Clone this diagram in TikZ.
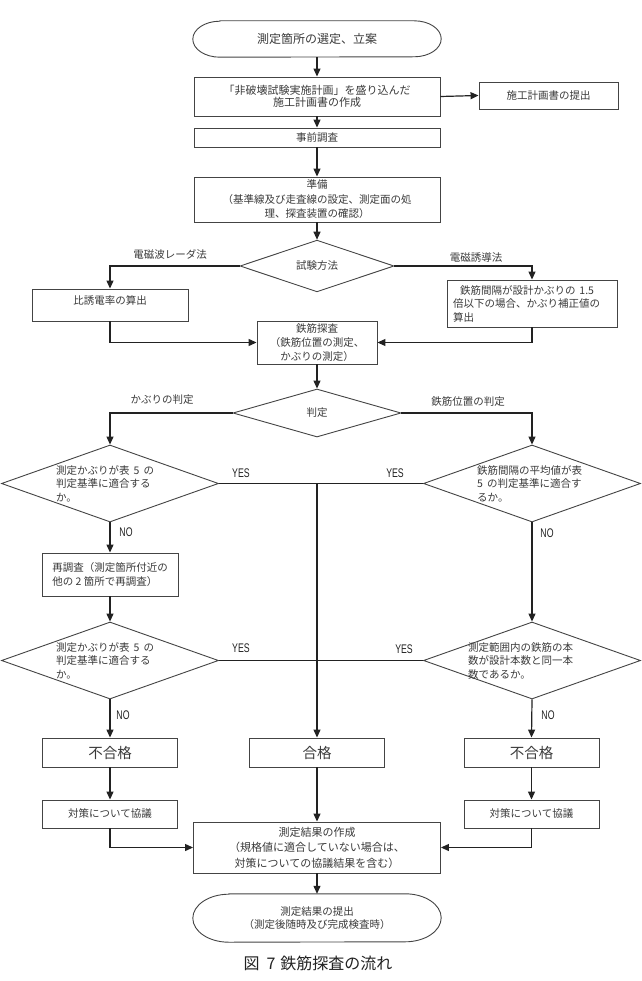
\documentclass[tikz,border=0pt]{standalone}
\usepackage{fontspec}
\setmainfont{Noto Sans CJK JP}
\newfontfamily\yesnofont{Liberation Sans}[FakeStretch=0.7]
\usepackage{xcolor}
\usepackage{tikz}
\usetikzlibrary{shapes.geometric,arrows.meta,calc}
\tikzset{>={Triangle[length=8pt,width=7pt]}}
\definecolor{LineDark}{HTML}{222222}
\definecolor{BoxEdge}{HTML}{444444}
\definecolor{TextBody}{HTML}{3A3A3A}
\newcommand{\bodyfont}{\fontsize{10.5}{14}\selectfont}
\newcommand{\headfont}{\fontsize{12}{15}\selectfont}
\newcommand{\bigfont}{\fontsize{14.5}{17}\selectfont}
\newcommand{\capfont}{\fontsize{16}{19}\selectfont}
\newcommand{\ynfont}{\yesnofont\fontsize{12.5}{14}\selectfont}
\newcommand{\termoutline}[2]{% #1 = node, #2 = half height
  \draw[draw=BoxEdge, line width=0.9pt] ([xshift=1.5*#2pt]#1.north west) -- ([xshift=-1.5*#2pt]#1.north east)
    arc[start angle=90, end angle=-90, x radius=1.5*#2pt, y radius=#2pt]
    -- ([xshift=1.5*#2pt]#1.south west)
    arc[start angle=270, end angle=90, x radius=1.5*#2pt, y radius=#2pt] -- cycle;}
\tikzset{
  box/.style={draw=BoxEdge, line width=0.9pt, inner sep=2pt, align=center, font=\bodyfont, text=TextBody},
  term/.style={inner sep=0pt, align=center, font=\bodyfont, text=TextBody},
  dec/.style={diamond, draw=BoxEdge, line width=0.9pt, inner sep=0pt, font=\bodyfont, text=TextBody},
  dtext/.style={inner sep=0pt, align=left, anchor=west, font=\fontsize{10.5}{13.5}\selectfont, text=TextBody},
  flow/.style={draw=LineDark, line width=1.2pt},
  note/.style={font=\bodyfont, text=TextBody},
  yn/.style={font=\ynfont, text=LineDark},
}

\begin{document}
\begin{tikzpicture}[x=1pt,y=1pt]
  \fill[white] (0,0) rectangle (641,-981);
  \useasboundingbox (0,0) rectangle (641,-981);

  % 上段
  \node[term, font=\headfont, minimum width=248, minimum height=36] (start) at (317,-39) {測定箇所の選定、立案};
  \termoutline{start}{18}
  \node[box, font=\fontsize{11}{12.5}\selectfont, minimum width=246, minimum height=39] (plan) at (317,-96.5) {「非破壊試験実施計画」を盛り込んだ\\施工計画書の作成};
  \node[box, minimum width=139, minimum height=27] (submit) at (548.5,-95.5) {施工計画書の提出};
  \node[box, minimum width=246, minimum height=19] (pre) at (317,-137.5) {事前調査};
  \node[box, font=\fontsize{10.5}{14.5}\selectfont, minimum width=246, minimum height=45] (prep) at (317,-199.5) {準備\\（基準線及び走査線の設定、測定面の処\\理、探査装置の確認）};

  % 試験方法
  \node[dec, minimum width=154, minimum height=50] (method) at (317,-266) {試験方法};
  \node[box, minimum width=156, minimum height=32, text depth=9pt] (perm) at (110,-305) {比誘電率の算出};
  \node[box, font=\fontsize{10.5}{13.5}\selectfont, align=left, text width=158pt, inner xsep=6pt, minimum height=47] (emi) at (532,-303.5) {\hspace{7pt}鉄筋間隔が設計かぶりの\hspace{4pt}1.5\\倍以下の場合、かぶり補正値の\\算出};
  \node[box, minimum width=120, minimum height=43] (scan) at (317,-342.5) {鉄筋探査\\（鉄筋位置の測定、\\かぶりの測定）};
  \node[note] (radar) at (170,-254) {電磁波レーダ法};
  \node[note] (induct) at (476,-258) {電磁誘導法};

  % 判定
  \node[dec, minimum width=168, minimum height=48] (judge) at (317,-413) {判定};
  \node[note] (coverj) at (162,-400) {かぶりの判定};
  \node[note] (posj) at (468,-402) {鉄筋位置の判定};

  \node[dec, minimum width=217, minimum height=77] (kb1) at (110,-483.5) {};
  \node[dtext] (kb1t) at (56,-483.5) {測定かぶりが表\hspace{4pt}5\hspace{4pt}の\\判定基準に適合する\\か。};
  \node[box, align=left, minimum width=136, minimum height=43] (recheck) at (110,-574.5) {再調査（測定箇所付近の\\他の 2 箇所で再調査）};
  \node[dec, minimum width=217, minimum height=77] (kb2) at (110,-660.5) {};
  \node[dtext] (kb2t) at (56,-660.5) {測定かぶりが表\hspace{4pt}5\hspace{4pt}の\\判定基準に適合する\\か。};

  \node[dec, minimum width=217, minimum height=77] (pos1) at (532,-483.5) {};
  \node[dtext] (pos1t) at (477,-483.5) {鉄筋間隔の平均値が表\\5\hspace{4pt}の判定基準に適合す\\るか。};
  \node[dec, minimum width=217, minimum height=77] (pos2) at (532,-660.5) {};
  \node[dtext] (pos2t) at (468,-660.5) {測定範囲内の鉄筋の本\\数が設計本数と同一本\\数であるか。};

  \foreach \x/\y/\t in {241/473/YES, 395/473/YES, 241/648/YES, 404/649/YES,
                        126/532/NO, 547/533/NO, 123/715/NO, 548/715/NO}{
    \node[yn] (yn\x\y) at (\x,-\y) {\t};
  }

  % 下段
  \foreach \n/\x/\t in {ngl/110/不合格, ok/317/合格, ngr/531.5/不合格}{
    \node[box, font=\bigfont, minimum width=135, minimum height=29] (\n) at (\x,-752.5) {\t};
  }
  \foreach \n/\x in {cml/110, cmr/531.5}{
    \node[box, minimum width=135, minimum height=28] (\n) at (\x,-814) {対策について協議};
  }
  \node[box, font=\fontsize{11}{15.5}\selectfont, minimum width=247, minimum height=51] (result) at (317,-847.5) {測定結果の作成\\（規格値に適合していない場合は、\\対策についての協議結果を含む）};
  \node[term, font=\fontsize{10.5}{13.5}\selectfont, minimum width=248, minimum height=48] (finish) at (317,-918) {測定結果の提出\\（測定後随時及び完成検査時）};
  \termoutline{finish}{24}
  \node[font=\capfont, text=LineDark] (caption) at (318,-963) {図\hspace{7pt}7\hspace{5pt}鉄筋探査の流れ};

  % 接続線
  \draw[flow,->] (start) -- (plan);
  \draw[flow,->] (plan.east) -- (submit.west);
  \draw[flow,->] (plan) -- (pre);
  \draw[flow,->] (pre) -- (prep);
  \draw[flow,->] (prep) -- (method);
  \draw[flow,->] (method.west) -| (perm.north);
  \draw[flow,->] (method.east) -| (emi.north);
  \draw[flow,->] (perm.south) |- (scan.west);
  \draw[flow,->] (emi.south) |- (scan.east);
  \draw[flow,->] (scan) -- (judge);
  \draw[flow,->] (judge.west) -| (kb1.north);
  \draw[flow,->] (judge.east) -| (pos1.north);
  \draw[flow,->] (kb1.south) -- (recheck.north);
  \draw[flow,->] (recheck.south) -- (kb2.north);
  \draw[flow,->] (kb2.south) -- (ngl.north);
  \draw[flow,->] (pos1.south) -- (pos2.north);
  \draw[flow,->] (pos2.south) -- (ngr.north);
  \coordinate (okj) at (ok.north |- kb1.east);
  \draw[flow] (kb1.east) -- (pos1.west);
  \draw[flow] (kb2.east) -- (pos2.west);
  \draw[flow,->] (okj) -- (ok.north);
  \draw[flow,->] (ngl) -- (cml);
  \draw[flow,->] (ngr) -- (cmr);
  \draw[flow,->] (ok) -- (result);
  \draw[flow,->] (cml.south) |- (result.west);
  \draw[flow,->] (cmr.south) |- (result.east);
  \draw[flow,->] (result) -- (finish.north);
\end{tikzpicture}
\end{document}
